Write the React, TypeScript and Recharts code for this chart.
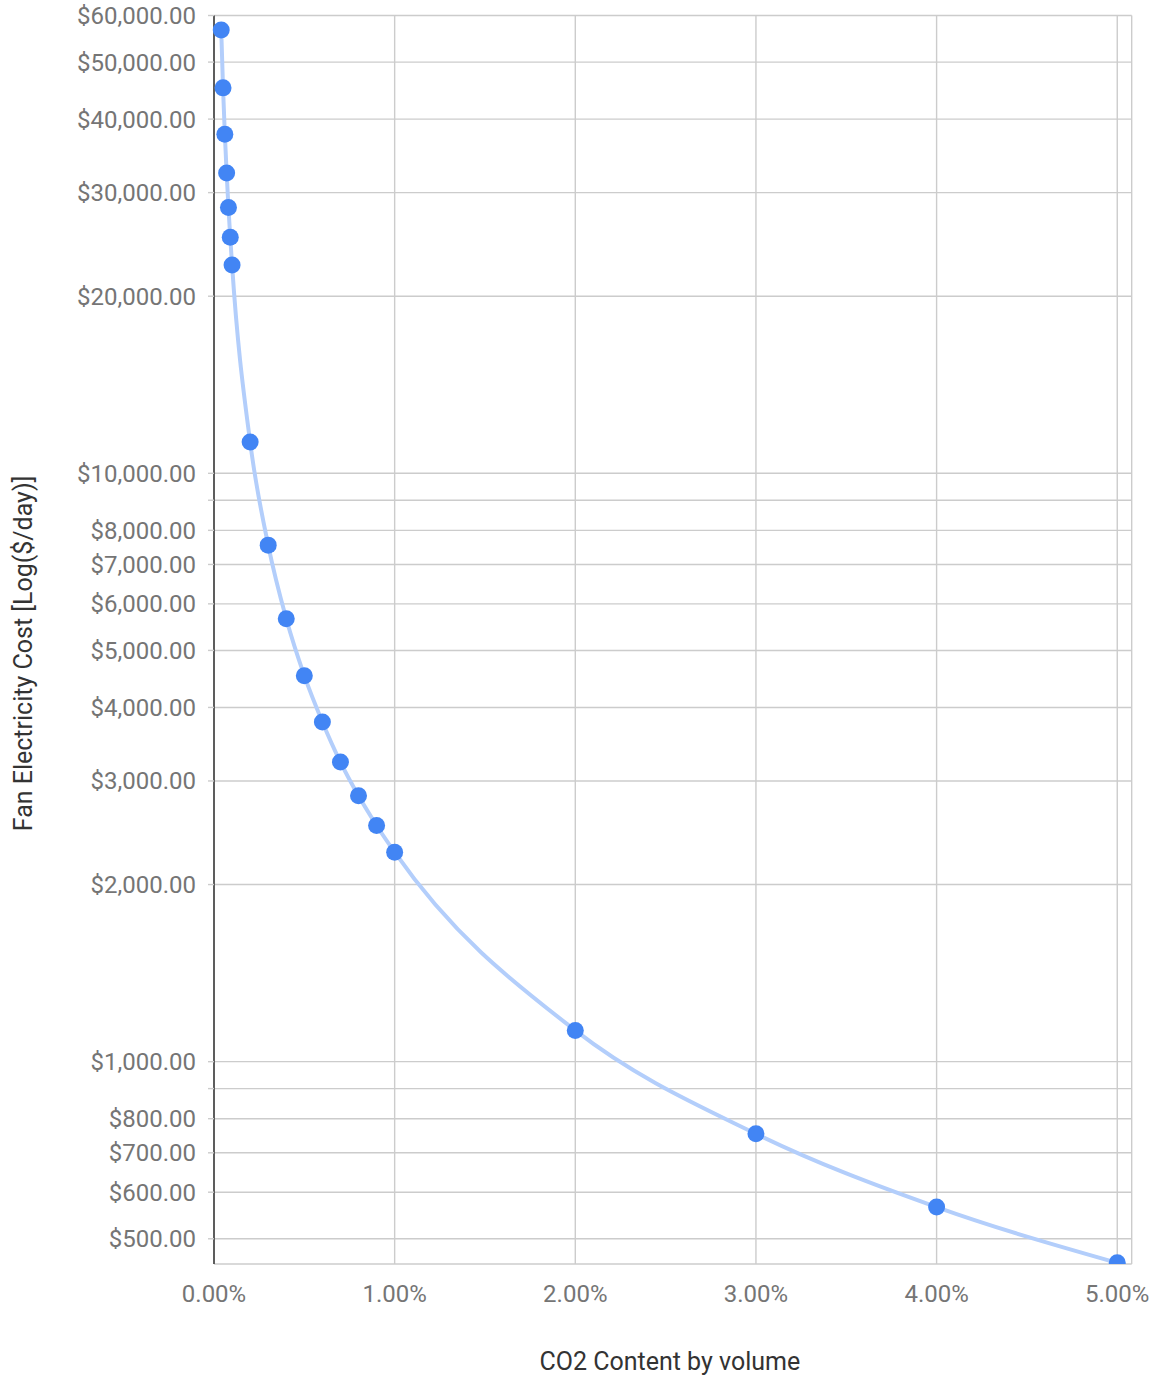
import React from "react";
import { ScatterChart, Scatter, XAxis, YAxis, CartesianGrid, Label } from "recharts";

// CO2 content (% by volume) and the matching daily fan electricity cost
const co2Percent = [
  0.04, 0.05, 0.06, 0.07, 0.08, 0.09, 0.1, 0.2, 0.3, 0.4, 0.5, 0.6, 0.7, 0.8,
  0.9, 1, 2, 3, 4, 5,
];
const fanCost = [
  56700, 45200, 37700, 32400, 28300, 25200, 22600, 11300, 7550, 5660, 4530,
  3780, 3230, 2830, 2520, 2270, 1130, 754, 566, 455,
];

const co2Ticks = [0, 1, 2, 3, 4, 5];
const costTicks = [
  500, 600, 700, 800, 900, 1000, 2000, 3000, 4000, 5000, 6000, 7000, 8000,
  9000, 10000, 20000, 30000, 40000, 50000, 60000,
];
// gridlines only, no label
const unlabeledCostTicks = [900, 9000];

const data = co2Percent.map((co2, i) => ({ co2, cost: fanCost[i] }));

const FONT = "Roboto, 'Noto Sans', sans-serif";
const tickStyle = { fill: "#757575", fontSize: 24, fontFamily: FONT };

const formatCost = (v: number) =>
  unlabeledCostTicks.includes(v)
    ? ""
    : "$" +
      v.toLocaleString("en-US", {
        minimumFractionDigits: 2,
        maximumFractionDigits: 2,
      });

const formatPercent = (v: number) => `${v.toFixed(2)}%`;

const Dot = (props: any) => (
  <circle cx={props.cx} cy={props.cy} r={8.5} fill="#4285f4" />
);

export default function App() {
  return (
    <div style={{ position: "absolute", left: 0, top: 0 }}>
      <ScatterChart
        width={1154}
        height={1378}
        margin={{ top: 15.5, right: 22.3, bottom: 0, left: 0 }}
      >
        <CartesianGrid stroke="#cccccc" strokeWidth={1.4} />
        <XAxis
          type="number"
          dataKey="co2"
          domain={[0, 5.08]}
          ticks={co2Ticks}
          interval={0}
          tickFormatter={formatPercent}
          axisLine={false}
          tickLine={false}
          tickSize={6}
          tickMargin={15}
          height={114}
          tick={tickStyle}
        >
          <Label
            content={(p: any) => {
              const vb = p.viewBox;
              return (
                <text
                  x={vb.x + vb.width / 2 - 3}
                  y={vb.y + 106}
                  textAnchor="middle"
                  fill="#333"
                  fontSize={25}
                  fontFamily={FONT}
                >
                  CO2 Content by volume
                </text>
              );
            }}
          />
        </XAxis>
        <YAxis
          type="number"
          dataKey="cost"
          scale="log"
          domain={[453, 60000]}
          allowDataOverflow
          ticks={costTicks}
          interval={0}
          tickFormatter={formatCost}
          width={214}
          tickSize={6}
          tickMargin={12}
          tickLine={{ stroke: "#cccccc", strokeWidth: 1.4 }}
          axisLine={{ stroke: "#333333", strokeWidth: 1.5 }}
          tick={tickStyle}
        >
          <Label
            content={() => (
              <text
                x={31.5}
                y={653.5}
                transform="rotate(-90, 31.5, 653.5)"
                textAnchor="middle"
                fill="#333"
                fontSize={25}
                fontFamily={FONT}
              >
                Fan Electricity Cost [Log($/day)]
              </text>
            )}
          />
        </YAxis>
        <Scatter
          data={data}
          fill="#4285f4"
          line={{ stroke: "#b3cefb", strokeWidth: 4 }}
          lineType="joint"
          lineJointType="monotoneX"
          shape={Dot}
          isAnimationActive={false}
        />
      </ScatterChart>
    </div>
  );
}
